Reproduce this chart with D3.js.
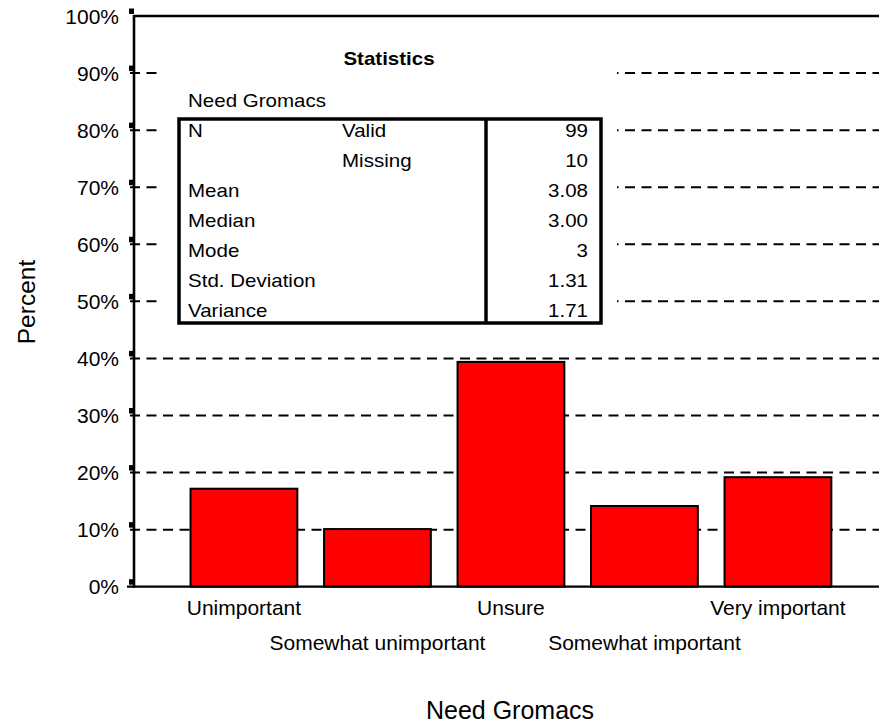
<!DOCTYPE html>
<html>
<head>
<meta charset="utf-8">
<script src="https://cdn.jsdelivr.net/npm/d3@7"></script>
<style>
  html, body { margin: 0; padding: 0; background: #fff; }
  svg { display: block; }
  text { font-family: "Liberation Sans", Arial, sans-serif; fill: #000; }
</style>
</head>
<body>
<div id="chart"></div>
<script>
// ---- data ----
const categories = ["Unimportant", "Somewhat unimportant", "Unsure", "Somewhat important", "Very important"];
const percents = [17.17, 10.10, 39.39, 14.14, 19.19];
const yTicks = [0, 10, 20, 30, 40, 50, 60, 70, 80, 90, 100];
const tickLabels = ["0%", "10%", "20%", "30%", "40%", "50%", "60%", "70%", "80%", "90%", "100%"];
const statTitle = "Statistics";
const statVariable = "Need Gromacs";
const statLabels = ["N", "", "Mean", "Median", "Mode", "Std. Deviation", "Variance"];
const statSubLabels = ["Valid", "Missing", "", "", "", "", ""];
const statValues = ["99", "10", "3.08", "3.00", "3", "1.31", "1.71"];
const xTitle = "Need Gromacs";
const yTitle = "Percent";

// ---- layout ----
const W = 879, H = 723;
const axisX = 134, plotRight = 879, plotTop = 16, plotBottom = 586.7;

const svg = d3.select("#chart").append("svg").attr("width", W).attr("height", H);

const y = d3.scaleLinear().domain([0, 100]).range([plotBottom, plotTop]);
const x = d3.scaleBand().domain(categories).range([150.5, 871.4]).paddingInner(0.2).paddingOuter(0.3);

// gridlines (dashed)
svg.append("g").selectAll("line").data(yTicks.filter(d => d > 0 && d < 100)).join("line")
  .attr("x1", 130).attr("x2", plotRight)
  .attr("y1", d => y(d)).attr("y2", d => y(d))
  .attr("stroke", "#000").attr("stroke-width", 2)
  .attr("stroke-dasharray", "10,6.5");

// statistics table
const tbl = svg.append("g");
tbl.append("rect").attr("x", 158).attr("y", 30).attr("width", 459).attr("height", 308).attr("fill", "#fff");
const sx = 1.14;
tbl.append("text").attr("transform", `translate(389,65) scale(${sx},1)`)
  .attr("text-anchor", "middle").attr("font-size", 18).attr("font-weight", "bold").text(statTitle);
tbl.append("text").attr("transform", `translate(188,107) scale(${sx},1)`)
  .attr("font-size", 18).text(statVariable);
const rowY = d3.scaleLinear().domain([0, 6]).range([137, 317]);
statLabels.forEach((d, i) => {
  tbl.append("text").attr("transform", `translate(188,${rowY(i)}) scale(${sx},1)`).attr("font-size", 18).text(d);
  tbl.append("text").attr("transform", `translate(342,${rowY(i)}) scale(${sx},1)`).attr("font-size", 18).text(statSubLabels[i]);
  tbl.append("text").attr("transform", `translate(588,${rowY(i)}) scale(${sx},1)`).attr("font-size", 18)
    .attr("text-anchor", "end").text(statValues[i]);
});
tbl.append("rect").attr("x", 179).attr("y", 119).attr("width", 422).attr("height", 204)
  .attr("fill", "none").attr("stroke", "#000").attr("stroke-width", 3.5);
tbl.append("line").attr("x1", 486).attr("x2", 486).attr("y1", 119).attr("y2", 323)
  .attr("stroke", "#000").attr("stroke-width", 3.5);

// bars
svg.append("g").selectAll("rect").data(categories).join("rect")
  .attr("x", d => x(d)).attr("width", x.bandwidth())
  .attr("y", (d, i) => y(percents[i])).attr("height", (d, i) => y(0) - y(percents[i]))
  .attr("fill", "#ff0000").attr("stroke", "#000").attr("stroke-width", 2);

// frame: top line, y axis line, baseline
svg.append("line").attr("x1", axisX).attr("x2", plotRight).attr("y1", y(100)).attr("y2", y(100))
  .attr("stroke", "#000").attr("stroke-width", 2.4);
svg.append("line").attr("x1", axisX).attr("x2", axisX).attr("y1", y(100) - 1).attr("y2", y(0) + 1)
  .attr("stroke", "#000").attr("stroke-width", 2.6);
svg.append("line").attr("x1", 127).attr("x2", plotRight).attr("y1", y(0)).attr("y2", y(0))
  .attr("stroke", "#000").attr("stroke-width", 2.2);

// y ticks: small squares + labels
const yt = svg.append("g").selectAll("g").data(yTicks).join("g")
  .attr("transform", d => `translate(0,${y(d)})`);
yt.append("rect").attr("x", 129).attr("y", -7.5).attr("width", 5).attr("height", 5.5).attr("fill", "#000");
yt.append("text").attr("x", 119).attr("y", 7.5).attr("text-anchor", "end").attr("font-size", 21)
  .text((d, i) => tickLabels[i]);

// x category labels (staggered)
svg.append("g").selectAll("text").data(categories).join("text")
  .attr("x", d => x(d) + x.bandwidth() / 2)
  .attr("y", (d, i) => i % 2 === 0 ? 615 : 650)
  .attr("text-anchor", "middle").attr("font-size", 21).text(d => d);

// axis titles
svg.append("text").attr("x", 510).attr("y", 719).attr("text-anchor", "middle").attr("font-size", 25).text(xTitle);
svg.append("text").attr("transform", "translate(35,302) rotate(-90)").attr("text-anchor", "middle")
  .attr("font-size", 24.5).text(yTitle);
</script>
</body>
</html>
